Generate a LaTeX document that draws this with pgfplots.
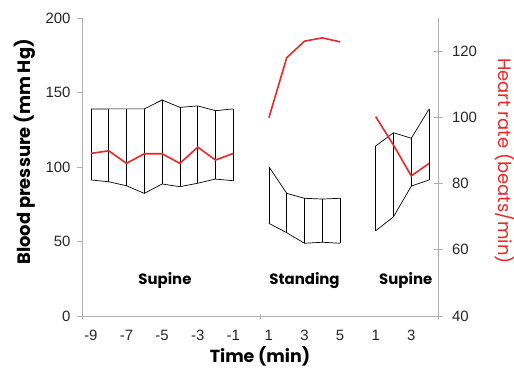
\documentclass[border=0pt]{standalone}
\usepackage{pgfplots}
\pgfplotsset{compat=1.18}
\usepackage{pgfplotstable}
\usepackage{fontspec}
\setmainfont{Liberation Sans}
\newfontfamily\pop{Poppins}
\definecolor{hrred}{RGB}{235,40,40}
\definecolor{axgray}{RGB}{175,175,175}

\pgfplotstableread{
x sys dia hr
0 138.9 91.3 89.1
1 139.0 90.1 89.9
2 139.0 87.4 86.1
3 139.0 82.3 89.0
4 145.0 88.6 89.0
5 140.0 86.8 86.1
6 141.0 89.1 91.0
7 137.8 91.9 87.1
8 139.0 90.8 89.1
}\supA
\pgfplotstableread{
x sys dia hr
10 100.2 62.2 99.9
11 82.3 55.9 118.0
12 79.0 48.8 123.0
13 78.5 49.5 124.0
14 79.0 48.8 122.8
}\stand
\pgfplotstableread{
x sys dia hr
16 114.1 57.2 100.2
17 123.0 66.6 91.6
18 119.3 87.2 82.3
19 138.9 91.3 86.1
}\supB

\begin{document}
\begin{tikzpicture}
\path[use as bounding box] (-82bp,-55bp) rectangle (432bp,316bp);
\begin{axis}[
  at={(0,0)}, anchor=south west, scale only axis,
  width=356bp, height=298bp,
  xmin=-0.5, xmax=19.5, ymin=0, ymax=200,
  axis x line*=bottom, axis y line*=left,
  axis line style={axgray, line width=0.8pt},
  every tick/.style={axgray, line width=0.8pt},
  ytick={0,50,...,200},
  ytick align=outside, major tick length=5bp,
  xtick={-0.5,9.5,19.5}, xticklabels={},
  xtick align=center,
  extra x ticks={0,2,...,18},
  extra x tick labels={-9,-7,-5,-3,-1,1,3,5,1,3},
  extra x tick style={major tick length=0pt},
  tick label style={font=\fontsize{15}{15}\selectfont, text=black!85},
  /pgf/number format/assume math mode=true,
  xticklabel style={yshift=-11bp},
  yticklabel style={xshift=-3bp},
  every axis y label/.style={at={(axis description cs:0,0.5)}, xshift=-57bp, yshift=15bp, anchor=center, rotate=90},
  every axis x label/.style={at={(axis description cs:0.5,0)}, anchor=center, yshift=-40bp},
  ylabel={\pop\bfseries\fontsize{18}{18}\selectfont Blood pressure (mm Hg)},
  xlabel={\pop\bfseries\fontsize{17.5}{17.5}\selectfont Time (min)},
  clip=false,
]
\addplot[black, line width=0.7pt, mark=none] table[x=x, y=sys] {\supA};
\addplot[black, line width=0.7pt, mark=none] table[x=x, y=dia] {\supA};
\addplot[draw=none, mark=none, error bars/.cd, y dir=minus, y explicit, error mark=none,
  error bar style={black, line width=0.7pt}] table[x=x, y=sys, y error expr=\thisrow{sys}-\thisrow{dia}] {\supA};
\addplot[black, line width=0.7pt, mark=none] table[x=x, y=sys] {\stand};
\addplot[black, line width=0.7pt, mark=none] table[x=x, y=dia] {\stand};
\addplot[draw=none, mark=none, error bars/.cd, y dir=minus, y explicit, error mark=none,
  error bar style={black, line width=0.7pt}] table[x=x, y=sys, y error expr=\thisrow{sys}-\thisrow{dia}] {\stand};
\addplot[black, line width=0.7pt, mark=none] table[x=x, y=sys] {\supB};
\addplot[black, line width=0.7pt, mark=none] table[x=x, y=dia] {\supB};
\addplot[draw=none, mark=none, error bars/.cd, y dir=minus, y explicit, error mark=none,
  error bar style={black, line width=0.7pt}] table[x=x, y=sys, y error expr=\thisrow{sys}-\thisrow{dia}] {\supB};
\node[font=\pop\bfseries\fontsize{15}{15}\selectfont, anchor=center] at (axis cs:4.16,23.5) {Supine};
\node[font=\pop\bfseries\fontsize{15}{15}\selectfont, anchor=center] at (axis cs:12,23.5) {Standing};
\node[font=\pop\bfseries\fontsize{15}{15}\selectfont, anchor=center] at (axis cs:17.69,23.5) {Supine};
\end{axis}
\begin{axis}[
  at={(0,0)}, anchor=south west, scale only axis,
  width=356bp, height=298bp,
  xmin=-0.5, xmax=19.5, ymin=40, ymax=130,
  axis x line=none, axis y line*=right,
  axis line style={axgray, line width=0.8pt},
  every tick/.style={axgray, line width=0.8pt},
  ytick={40,60,...,120},
  ytick align=center, major tick length=9bp,
  tick label style={font=\fontsize{15}{15}\selectfont, text=black!85},
  yticklabel style={xshift=6bp},
  /pgf/number format/assume math mode=true,
  every axis y label/.style={at={(axis description cs:1,0.5)}, xshift=67bp, yshift=6bp, anchor=center, rotate=-90},
  ylabel={\pop\fontsize{18}{18}\selectfont\color{hrred} Heart rate (beats/min)},
  clip=false,
]
\addplot[hrred, line width=1.6pt, mark=none] table[x=x, y=hr] {\supA};
\addplot[hrred, line width=1.6pt, mark=none] table[x=x, y=hr] {\stand};
\addplot[hrred, line width=1.6pt, mark=none] table[x=x, y=hr] {\supB};
\end{axis}
\end{tikzpicture}
\end{document}
